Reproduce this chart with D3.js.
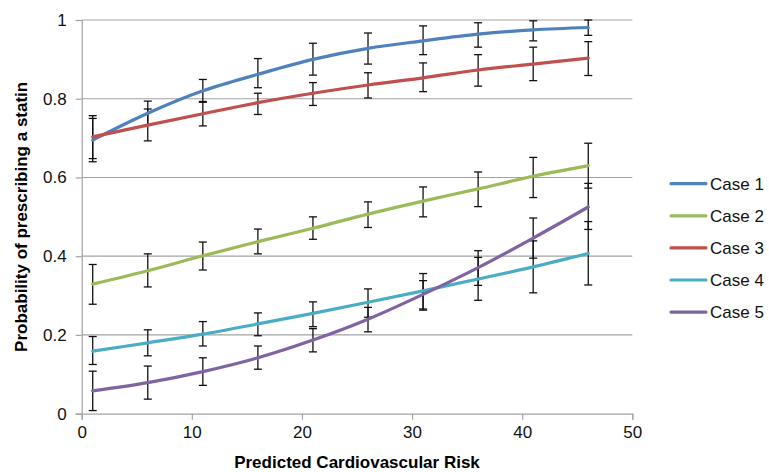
<!DOCTYPE html>
<html lang="en">

<head>
  <meta charset="UTF-8">
  <title>Probability of prescribing a statin</title>
  <script src="https://cdn.jsdelivr.net/npm/d3@7"></script>
  <style>
    body {
      margin: 0;
      background: white;
    }

    svg {
      display: block;
      font-family: "Liberation Sans", Arial, sans-serif;
    }

    .axis-title {
      font-size: 17px;
      font-weight: bold;
    }
  </style>
</head>

<body>
  <div id="chart"></div>
  <script>
    // predicted risk values where each case was evaluated
    const risk = [1, 6, 11, 16, 21, 26, 31, 36, 41, 46]

    const case1 = [0.695, 0.763, 0.820, 0.862, 0.900, 0.928, 0.947, 0.964, 0.975, 0.981]
    const case1Lo = [0.640, 0.733, 0.791, 0.828, 0.860, 0.888, 0.912, 0.931, 0.947, 0.961]
    const case1Hi = [0.750, 0.794, 0.849, 0.902, 0.941, 0.967, 0.985, 0.993, 0.998, 1.000]

    const case2 = [0.329, 0.363, 0.401, 0.437, 0.471, 0.507, 0.540, 0.571, 0.603, 0.630]
    const case2Lo = [0.278, 0.322, 0.365, 0.406, 0.443, 0.473, 0.500, 0.526, 0.549, 0.573]
    const case2Hi = [0.379, 0.406, 0.436, 0.469, 0.500, 0.538, 0.576, 0.614, 0.651, 0.687]

    const case3 = [0.703, 0.733, 0.762, 0.790, 0.814, 0.835, 0.853, 0.873, 0.888, 0.903]
    const case3Lo = [0.648, 0.693, 0.731, 0.760, 0.783, 0.802, 0.818, 0.832, 0.846, 0.859]
    const case3Hi = [0.757, 0.774, 0.793, 0.814, 0.841, 0.866, 0.891, 0.912, 0.931, 0.945]

    const case4 = [0.159, 0.180, 0.202, 0.228, 0.255, 0.283, 0.312, 0.342, 0.373, 0.407]
    const case4Lo = [0.125, 0.147, 0.172, 0.198, 0.221, 0.245, 0.266, 0.288, 0.307, 0.327]
    const case4Hi = [0.196, 0.213, 0.234, 0.256, 0.284, 0.317, 0.356, 0.397, 0.439, 0.488]

    const case5 = [0.058, 0.079, 0.107, 0.142, 0.187, 0.240, 0.303, 0.371, 0.446, 0.525]
    const case5Lo = [0.008, 0.037, 0.072, 0.113, 0.157, 0.208, 0.263, 0.326, 0.395, 0.468]
    const case5Hi = [0.108, 0.121, 0.142, 0.172, 0.216, 0.270, 0.338, 0.414, 0.497, 0.585]

    const caseNames = ["Case 1", "Case 2", "Case 3", "Case 4", "Case 5"]
    const xTicks = [0, 10, 20, 30, 40, 50]
    const yTicks = [0, 0.2, 0.4, 0.6, 0.8, 1]

    const colors = ["#4f81bd", "#9bbb59", "#c0504d", "#4bacc6", "#8064a2"]

    const series = [
      { name: caseNames[0], mid: case1, lo: case1Lo, hi: case1Hi },
      { name: caseNames[1], mid: case2, lo: case2Lo, hi: case2Hi },
      { name: caseNames[2], mid: case3, lo: case3Lo, hi: case3Hi },
      { name: caseNames[3], mid: case4, lo: case4Lo, hi: case4Hi },
      { name: caseNames[4], mid: case5, lo: case5Lo, hi: case5Hi }
    ]

    const width = 769
    const height = 472
    const plotLeft = 81.7
    const plotRight = 632.3
    const plotTop = 20
    const plotBottom = 413.7
    const gridColor = "#a3a3a3"

    const svg = d3.select("#chart")
      .append("svg")
      .attr("width", width)
      .attr("height", height)

    const xScale = d3.scaleLinear()
      .domain([0, 50])
      .range([plotLeft, plotRight])

    const yScale = d3.scaleLinear()
      .domain([0, 1])
      .range([plotBottom, plotTop])

    // horizontal gridlines
    svg.append("g")
      .selectAll("line")
      .data(yTicks.filter(d => d > 0))
      .enter()
      .append("line")
      .attr("x1", plotLeft)
      .attr("x2", plotRight)
      .attr("y1", d => yScale(d))
      .attr("y2", d => yScale(d))
      .attr("stroke", gridColor)
      .attr("stroke-width", 1.2)

    const yAxis = d3.axisLeft(yScale)
      .tickValues(yTicks)
      .tickSize(6)
      .tickPadding(9)
      .tickFormat(d => d3.format(".1~f")(d))

    const xAxis = d3.axisBottom(xScale)
      .tickValues(xTicks)
      .tickSize(6)
      .tickPadding(6)
      .tickFormat(d3.format("d"))

    const gy = svg.append("g")
      .attr("transform", `translate(${plotLeft}, 0)`)
      .call(yAxis)

    const gx = svg.append("g")
      .attr("transform", `translate(0, ${plotBottom})`)
      .call(xAxis)

    for (const g of [gx, gy]) {
      g.select(".domain").attr("stroke", gridColor).attr("stroke-width", 1.2)
      g.selectAll(".tick line").attr("stroke", gridColor).attr("stroke-width", 1.2)
      g.selectAll(".tick text")
        .attr("fill", "#111")
        .style("font-size", "17px")
        .style("font-family", "'Liberation Sans', Arial, sans-serif")
    }

    // error bars
    const capHalf = 4
    series.forEach(s => {
      const bars = svg.append("g")
        .attr("stroke", "#111")
        .attr("stroke-width", 1.3)
        .selectAll("g")
        .data(risk.map((r, i) => ({ r, lo: s.lo[i], hi: s.hi[i] })))
        .enter()
        .append("g")

      bars.append("line")
        .attr("x1", d => xScale(d.r))
        .attr("x2", d => xScale(d.r))
        .attr("y1", d => yScale(d.lo))
        .attr("y2", d => yScale(d.hi))

      bars.append("line")
        .attr("x1", d => xScale(d.r) - capHalf)
        .attr("x2", d => xScale(d.r) + capHalf)
        .attr("y1", d => yScale(d.lo))
        .attr("y2", d => yScale(d.lo))

      bars.append("line")
        .attr("x1", d => xScale(d.r) - capHalf)
        .attr("x2", d => xScale(d.r) + capHalf)
        .attr("y1", d => yScale(d.hi))
        .attr("y2", d => yScale(d.hi))
    })

    // smoothed lines
    const line = d3.line()
      .x((d, i) => xScale(risk[i]))
      .y(d => yScale(d))
      .curve(d3.curveCatmullRom.alpha(0))

    series.forEach((s, i) => {
      svg.append("path")
        .attr("d", line(s.mid))
        .attr("fill", "none")
        .attr("stroke", colors[i])
        .attr("stroke-width", 3.2)
        .attr("stroke-linecap", "round")
    })

    // legend
    const legend = svg.append("g")
      .attr("transform", "translate(670, 183.7)")

    const rows = legend.selectAll("g")
      .data(caseNames)
      .enter()
      .append("g")
      .attr("transform", (_, i) => `translate(0, ${i * 32.1})`)

    rows.append("line")
      .attr("x1", 1)
      .attr("x2", 36)
      .attr("stroke", (_, i) => colors[i])
      .attr("stroke-width", 3.2)
      .attr("stroke-linecap", "round")

    rows.append("text")
      .attr("x", 40)
      .attr("dy", "0.35em")
      .style("font-size", "17px")
      .attr("fill", "#111")
      .text(d => d)

    // axis titles
    svg.append("text")
      .attr("class", "axis-title")
      .attr("x", (plotLeft + plotRight) / 2)
      .attr("y", 468)
      .attr("text-anchor", "middle")
      .text("Predicted Cardiovascular Risk")

    svg.append("text")
      .attr("class", "axis-title")
      .attr("transform", `translate(27, ${(plotTop + plotBottom) / 2}) rotate(-90)`)
      .attr("text-anchor", "middle")
      .text("Probability of prescribing a statin")
  </script>
</body>

</html>
